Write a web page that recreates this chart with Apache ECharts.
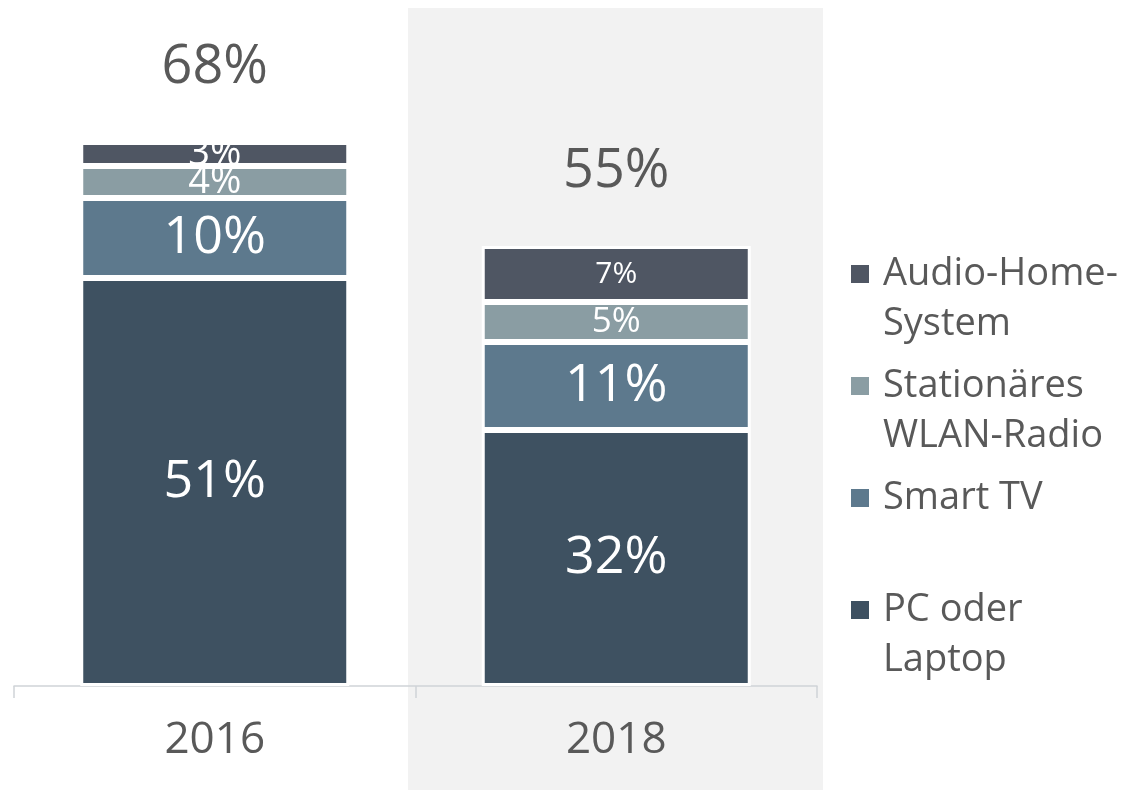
<!DOCTYPE html>
<html>
<head>
<meta charset="utf-8">
<script src="https://cdn.jsdelivr.net/npm/echarts@6/dist/echarts.min.js"></script>
<style>
  html, body { margin: 0; padding: 0; background: #ffffff; }
  #chart { width: 1130px; height: 790px; }
</style>
</head>
<body>
<div id="chart"></div>
<script>
// data
const years = ['2016', '2018'];
const seriesNames = ['PC oder Laptop', 'Smart TV', 'Stationäres WLAN-Radio', 'Audio-Home-System'];
const pcLaptop = [51, 32];
const smartTv = [10, 11];
const wlanRadio = [4, 5];
const audioHome = [3, 7];
const totals = [68, 55];

const seriesValues = [pcLaptop, smartTv, wlanRadio, audioHome];
const colors = ['#3e5161', '#5d798d', '#8a9da3', '#4f5663'];
// label sizes per series / category (small segments use smaller type)
const labelSizes = [[52, 52], [52, 52], [38, 35], [38, 30]];
const legendText = {
    'Audio-Home-System': 'Audio-Home-\nSystem',
    'Stationäres WLAN-Radio': 'Stationäres\nWLAN-Radio',
    'Smart TV': 'Smart TV\n ',
    'PC oder Laptop': 'PC oder\nLaptop'
};

const FONT = '"Open Sans", "Noto Sans", sans-serif';
const GREY = '#595959';

const chart = echarts.init(document.getElementById('chart'));

const barSeries = seriesNames.map((name, si) => ({
    name: name,
    type: 'bar',
    stack: 'total',
    barWidth: '67%',
    itemStyle: { color: colors[si], borderColor: '#ffffff', borderWidth: 3 },
    label: {
        show: true,
        position: 'inside',
        color: '#ffffff',
        fontFamily: FONT,
        formatter: p => p.value + '%'
    },
    data: seriesValues[si].map((v, ci) => ({
        value: v,
        label: { fontSize: labelSizes[si][ci] }
    }))
}));

const option = {
    animation: false,
    backgroundColor: '#ffffff',
    graphic: [{
        type: 'rect',
        z: -10,
        shape: { x: 408, y: 8, width: 415, height: 782 },
        style: { fill: '#f2f2f2' }
    }],
    grid: { left: 14, right: 313, top: 6, bottom: 104 },
    legend: {
        orient: 'vertical',
        left: 851,
        top: 249,
        padding: 0,
        itemGap: 12,
        itemWidth: 27,
        itemHeight: 100,
        icon: 'path://M0,0L0,0M0,16L18,16L18,34L0,34ZM27,100L27,100',
        itemStyle: { borderWidth: 0 },
        selectedMode: false,
        data: ['Audio-Home-System', 'Stationäres WLAN-Radio', 'Smart TV', 'PC oder Laptop'],
        formatter: name => legendText[name],
        textStyle: { fontFamily: FONT, fontSize: 38, lineHeight: 50, color: GREY }
    },
    xAxis: {
        type: 'category',
        data: years,
        axisLine: { lineStyle: { color: '#cfd4d8', width: 1.5 } },
        axisTick: { show: true, length: 12, lineStyle: { color: '#cfd4d8', width: 1.5 } },
        axisLabel: { fontFamily: FONT, fontSize: 44, color: GREY, margin: 32 }
    },
    yAxis: {
        type: 'value',
        min: 0,
        max: 85,
        show: false,
        splitLine: { show: false }
    },
    series: barSeries.concat([{
        name: 'Gesamt',
        type: 'scatter',
        symbolSize: 0,
        itemStyle: { opacity: 1 },
        data: totals,
        label: {
            show: true,
            position: 'top',
            distance: 46,
            fontFamily: FONT,
            fontSize: 54,
            lineHeight: 56,
            color: GREY,
            formatter: p => p.value + '%'
        }
    }])
};

chart.setOption(option);
</script>
</body>
</html>
